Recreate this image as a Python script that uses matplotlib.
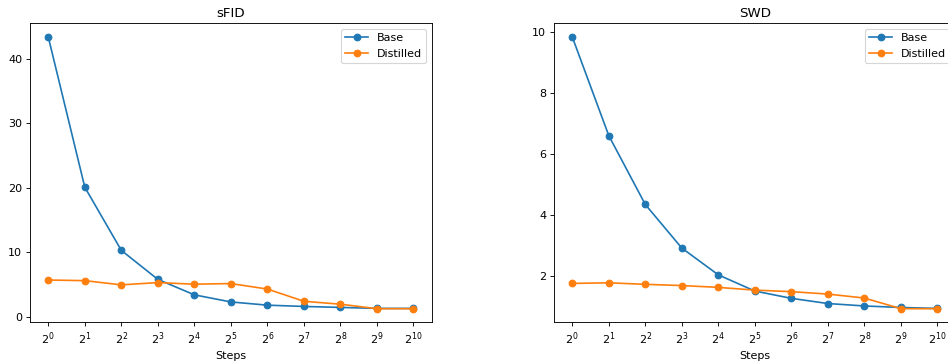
import numpy as np
import matplotlib
matplotlib.use('Agg')
from matplotlib import pyplot as plt

steps = [2 ** k for k in range(11)]

sfid_base = [43.4, 20.1, 10.3, 5.8, 3.4, 2.3, 1.8, 1.6, 1.45, 1.3, 1.3]
sfid_distilled = [5.7, 5.6, 4.95, 5.3, 5.05, 5.15, 4.3, 2.4, 1.95, 1.25, 1.25]

swd_base = [9.84, 6.6, 4.34, 2.91, 2.03, 1.50, 1.26, 1.09, 1.01, 0.96, 0.93]
swd_distilled = [1.75, 1.77, 1.72, 1.68, 1.62, 1.53, 1.48, 1.40, 1.27, 0.92, 0.92]

W, H, dpi = 948, 362, 80
fig = plt.figure(figsize=(W / dpi, H / dpi), dpi=dpi)

ax_w = 401.7 / W
ax_h = 299.0 / H
bottom = (H - 322.3) / H

ax1 = fig.add_axes([30 / W, bottom, ax_w, ax_h])
ax2 = fig.add_axes([554 / W, bottom, ax_w, ax_h])

for ax, title, base, dist in [(ax1, 'sFID', sfid_base, sfid_distilled),
                              (ax2, 'SWD', swd_base, swd_distilled)]:
    ax.plot(steps, base, marker='o', label='Base')
    ax.plot(steps, dist, marker='o', label='Distilled')
    ax.set_xscale('log', base=2)
    ax.set_xticks(steps)
    ax.set_title(title)
    ax.set_xlabel('Steps')
    ax.legend(loc='upper right')

fig.savefig('out.png', dpi=dpi)
